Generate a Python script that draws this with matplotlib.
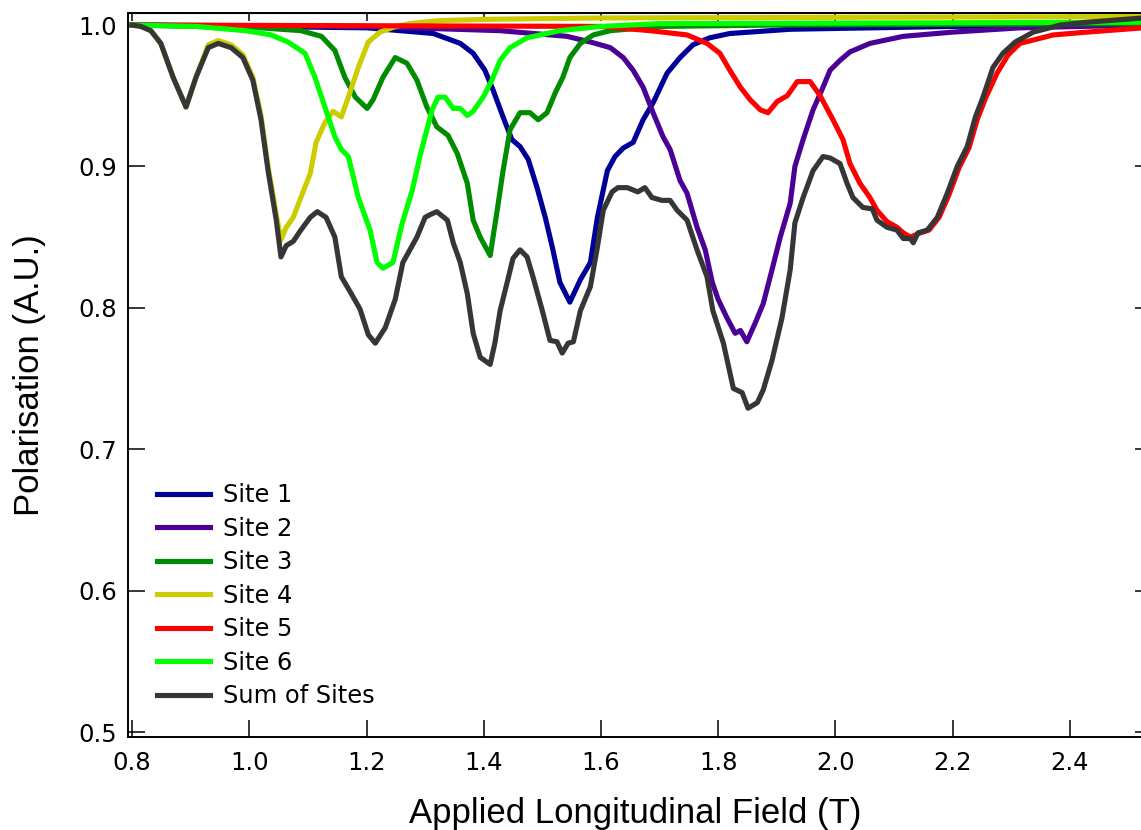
import numpy as np
import matplotlib.pyplot as plt

# ------------------------------------------------------------
# data (field in T, polarisation in A.U.)
# ------------------------------------------------------------
site1_x = [0.800, 1.000, 1.201, 1.314, 1.360, 1.382, 1.402, 1.416, 1.433, 1.448,
           1.462, 1.476, 1.491, 1.505, 1.517, 1.530, 1.547, 1.565, 1.582, 1.594,
           1.611, 1.624, 1.638, 1.655, 1.672, 1.689, 1.713, 1.735, 1.757, 1.786,
           1.820, 1.923, 2.200, 2.525]
site1_y = [1.000, 0.999, 0.998, 0.994, 0.987, 0.980, 0.968, 0.954, 0.935, 0.919,
           0.914, 0.905, 0.885, 0.864, 0.843, 0.818, 0.804, 0.820, 0.832, 0.864,
           0.897, 0.907, 0.913, 0.917, 0.933, 0.945, 0.966, 0.977, 0.986, 0.991,
           0.994, 0.997, 0.999, 1.000]

site2_x = [0.800, 1.200, 1.428, 1.542, 1.582, 1.616, 1.638, 1.655, 1.672, 1.689,
           1.706, 1.718, 1.735, 1.747, 1.764, 1.778, 1.790, 1.800, 1.815, 1.829,
           1.838, 1.849, 1.863, 1.877, 1.892, 1.906, 1.923, 1.931, 1.945, 1.962,
           1.979, 1.991, 2.008, 2.025, 2.059, 2.116, 2.201, 2.315, 2.525]
site2_y = [1.000, 0.999, 0.996, 0.992, 0.988, 0.984, 0.977, 0.968, 0.956, 0.938,
           0.921, 0.912, 0.890, 0.881, 0.857, 0.841, 0.818, 0.806, 0.793, 0.782,
           0.784, 0.776, 0.789, 0.803, 0.827, 0.850, 0.874, 0.900, 0.919, 0.940,
           0.956, 0.968, 0.975, 0.981, 0.987, 0.992, 0.995, 0.998, 1.000]

site3_x = [0.800, 1.020, 1.088, 1.123, 1.146, 1.163, 1.181, 1.201, 1.211, 1.228,
           1.249, 1.269, 1.286, 1.303, 1.320, 1.339, 1.355, 1.372, 1.382, 1.394,
           1.411, 1.423, 1.433, 1.445, 1.462, 1.479, 1.493, 1.508, 1.522, 1.535,
           1.547, 1.565, 1.587, 1.616, 1.700, 1.900, 2.525]
site3_y = [1.000, 0.998, 0.996, 0.992, 0.982, 0.963, 0.949, 0.941, 0.947, 0.963,
           0.977, 0.973, 0.961, 0.942, 0.928, 0.922, 0.909, 0.888, 0.862, 0.850,
           0.837, 0.869, 0.897, 0.926, 0.938, 0.938, 0.933, 0.938, 0.952, 0.963,
           0.977, 0.987, 0.993, 0.996, 0.999, 1.000, 1.001]

site4_x = [0.800, 0.815, 0.832, 0.849, 0.870, 0.892, 0.909, 0.930, 0.947, 0.969,
           0.989, 1.006, 1.020, 1.032, 1.046, 1.054, 1.063, 1.075, 1.088, 1.104,
           1.114, 1.129, 1.143, 1.157, 1.169, 1.186, 1.203, 1.223, 1.250, 1.274,
           1.320, 1.400, 1.600, 2.525]
site4_y = [1.000, 0.999, 0.996, 0.987, 0.963, 0.942, 0.963, 0.986, 0.989, 0.986,
           0.979, 0.963, 0.936, 0.900, 0.866, 0.848, 0.857, 0.864, 0.878, 0.895,
           0.917, 0.931, 0.939, 0.935, 0.949, 0.970, 0.988, 0.995, 0.999, 1.001,
           1.003, 1.004, 1.005, 1.006]

site5_x = [0.800, 1.600, 1.684, 1.747, 1.781, 1.803, 1.820, 1.838, 1.855, 1.872,
           1.885, 1.901, 1.918, 1.935, 1.957, 1.974, 1.996, 2.013, 2.025, 2.042,
           2.059, 2.071, 2.088, 2.105, 2.116, 2.128, 2.145, 2.160, 2.177, 2.194,
           2.211, 2.228, 2.242, 2.256, 2.276, 2.295, 2.315, 2.372, 2.430, 2.525]
site5_y = [1.000, 0.999, 0.996, 0.993, 0.987, 0.980, 0.968, 0.956, 0.947, 0.940,
           0.938, 0.946, 0.950, 0.960, 0.960, 0.950, 0.933, 0.919, 0.902, 0.888,
           0.878, 0.869, 0.861, 0.857, 0.853, 0.850, 0.853, 0.855, 0.864, 0.880,
           0.899, 0.913, 0.933, 0.948, 0.966, 0.979, 0.987, 0.993, 0.995, 0.998]

site6_x = [0.800, 0.909, 0.994, 1.037, 1.066, 1.095, 1.112, 1.129, 1.146, 1.157,
           1.169, 1.186, 1.206, 1.218, 1.228, 1.245, 1.261, 1.278, 1.291, 1.303,
           1.312, 1.322, 1.334, 1.348, 1.360, 1.372, 1.382, 1.399, 1.414, 1.428,
           1.445, 1.474, 1.530, 1.599, 1.700, 2.525]
site6_y = [1.000, 0.999, 0.996, 0.993, 0.988, 0.980, 0.963, 0.942, 0.921, 0.912,
           0.907, 0.878, 0.855, 0.832, 0.828, 0.832, 0.860, 0.883, 0.907, 0.926,
           0.940, 0.949, 0.949, 0.941, 0.941, 0.936, 0.939, 0.949, 0.961, 0.975,
           0.984, 0.991, 0.996, 0.999, 1.001, 1.002]

sum_x = [0.800, 0.815, 0.832, 0.849, 0.870, 0.892, 0.909, 0.930, 0.947, 0.969,
         0.989, 1.006, 1.020, 1.032, 1.046, 1.054, 1.063, 1.075, 1.088, 1.104,
         1.116, 1.131, 1.146, 1.157, 1.174, 1.189, 1.203, 1.215, 1.232, 1.249,
         1.262, 1.286, 1.300, 1.309, 1.320, 1.338, 1.348, 1.360, 1.372, 1.382,
         1.394, 1.411, 1.419, 1.428, 1.440, 1.450, 1.462, 1.474, 1.484, 1.500,
         1.513, 1.525, 1.534, 1.544, 1.553, 1.565, 1.582, 1.594, 1.604, 1.619,
         1.629, 1.645, 1.663, 1.675, 1.687, 1.704, 1.718, 1.730, 1.747, 1.764,
         1.781, 1.791, 1.809, 1.826, 1.841, 1.851, 1.867, 1.877, 1.892, 1.909,
         1.923, 1.931, 1.945, 1.962, 1.979, 1.991, 2.008, 2.020, 2.030, 2.047,
         2.063, 2.071, 2.088, 2.105, 2.116, 2.128, 2.133, 2.141, 2.157, 2.174,
         2.191, 2.208, 2.225, 2.239, 2.252, 2.269, 2.286, 2.307, 2.338, 2.384,
         2.430, 2.525]
sum_y = [1.000, 0.999, 0.996, 0.987, 0.963, 0.942, 0.963, 0.984, 0.987, 0.984,
         0.977, 0.961, 0.933, 0.897, 0.862, 0.836, 0.844, 0.847, 0.855, 0.864,
         0.868, 0.864, 0.850, 0.822, 0.810, 0.799, 0.781, 0.775, 0.786, 0.806,
         0.832, 0.850, 0.864, 0.866, 0.868, 0.862, 0.846, 0.832, 0.810, 0.782,
         0.765, 0.760, 0.775, 0.798, 0.818, 0.835, 0.841, 0.836, 0.822, 0.798,
         0.777, 0.776, 0.768, 0.775, 0.776, 0.798, 0.815, 0.843, 0.869, 0.882,
         0.885, 0.885, 0.882, 0.885, 0.878, 0.876, 0.876, 0.869, 0.862, 0.841,
         0.822, 0.798, 0.775, 0.743, 0.740, 0.729, 0.733, 0.742, 0.763, 0.793,
         0.827, 0.860, 0.878, 0.897, 0.907, 0.906, 0.902, 0.888, 0.878, 0.871,
         0.870, 0.862, 0.857, 0.855, 0.849, 0.849, 0.846, 0.853, 0.855, 0.864,
         0.881, 0.900, 0.914, 0.935, 0.949, 0.970, 0.980, 0.988, 0.995, 1.000,
         1.002, 1.005]

labels = ["Site 1", "Site 2", "Site 3", "Site 4", "Site 5", "Site 6", "Sum of Sites"]
colors = ["#000099", "#4B0096", "#008C00", "#CCCC00", "#FF0000", "#00FF00", "#363636"]
x_ticks = [0.8, 1.0, 1.2, 1.4, 1.6, 1.8, 2.0, 2.2, 2.4]
y_ticks = [0.5, 0.6, 0.7, 0.8, 0.9, 1.0]

series = [(site1_x, site1_y), (site2_x, site2_y), (site3_x, site3_y),
          (site4_x, site4_y), (site5_x, site5_y), (site6_x, site6_y),
          (sum_x, sum_y)]

# ------------------------------------------------------------
# figure
# ------------------------------------------------------------
plt.rcParams["font.family"] = ["DejaVu Sans"]

fig = plt.figure(figsize=(11.41, 8.30), dpi=100)
ax = fig.add_axes([128 / 1141, 93 / 830, 1015 / 1141, 724 / 830])

for (xs, ys), lab, col in zip(series, labels, colors):
    ax.plot(xs, ys, color=col, lw=3.7, label=lab, solid_joinstyle="round")

ax.set_xlim(0.793, 2.525)
ax.set_ylim(0.4965, 1.0085)
ax.set_xticks(x_ticks)
ax.set_yticks(y_ticks)
ax.set_xticklabels([f"{v:.1f}" for v in x_ticks])
ax.set_yticklabels([f"{v:.1f}" for v in y_ticks])
ax.tick_params(direction="in", length=12, width=1.1, labelsize=17.5)
ax.tick_params(axis="x", pad=10)
ax.tick_params(axis="y", pad=8)

for sp in ax.spines.values():
    sp.set_linewidth(1.4)

# short inward ticks on top and right
top = ax.secondary_xaxis("top")
top.set_xticks(x_ticks)
top.tick_params(direction="in", length=6, width=1.1, labeltop=False)
right = ax.secondary_yaxis("right")
right.set_yticks(y_ticks)
right.tick_params(direction="in", length=6, width=1.1, labelright=False)

ax.set_xlabel("Applied Longitudinal Field (T)", family="Liberation Sans",
              fontsize=25, labelpad=16)
ax.set_ylabel("Polarisation (A.U.)", family="Liberation Sans",
              fontsize=25, labelpad=23)

ax.legend(loc="lower left", bbox_to_anchor=(0.0286, 0.04), frameon=False,
          fontsize=17.4, handlelength=2.2, handletextpad=0.55,
          labelspacing=0.39, borderpad=0, borderaxespad=0)

fig.savefig("out.png", dpi=100)
